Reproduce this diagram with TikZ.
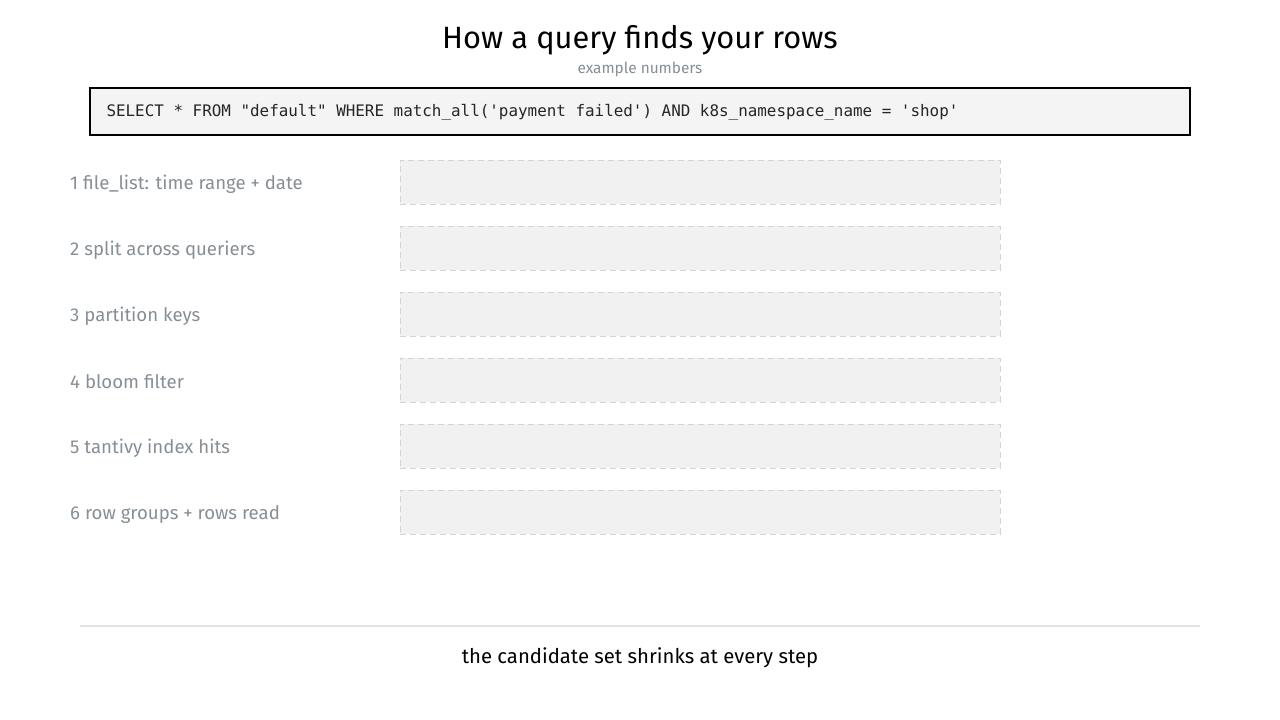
\documentclass[tikz,border=0pt]{standalone}
\usepackage{fontspec}
\setmainfont{Fira Sans}
\setmonofont{DejaVu Sans Mono}
\usetikzlibrary{positioning}

\definecolor{labelgray}{HTML}{868E96}
\definecolor{boxfill}{HTML}{F1F1F1}
\definecolor{boxline}{HTML}{D2D4D8}
\definecolor{sqlfill}{HTML}{F4F4F4}
\definecolor{rulegray}{HTML}{E2E2E2}

\tikzset{
  steplabel/.style={anchor=west, text=labelgray, font=\fontsize{18.6}{21}\selectfont, inner sep=0pt},
  stepbox/.style={draw=boxline, fill=boxfill, dashed, dash pattern=on 6pt off 4pt, line width=1pt,
    minimum width=600pt, minimum height=44pt, inner sep=0pt},
}

\begin{document}
\begin{tikzpicture}[x=1pt, y=-1pt, node distance=66pt]
          \useasboundingbox (0,0) rectangle (1280,720);

          \node[font=\fontsize{30.8}{34}\selectfont] (title) at (640,40) {How a query finds your rows};
          \node[font=\fontsize{15.4}{17}\selectfont, text=labelgray] (sub) at (640,69) {example numbers};

          \node[draw=black, fill=sqlfill, line width=2pt, minimum width=1100pt, minimum height=47pt] (sql) at (640,111) {};
          \node[anchor=west, font=\ttfamily\fontsize{15.9}{18}\selectfont, text=black!85] (query) at (103,112)
            {SELECT * FROM "default" WHERE match\_all('payment failed') AND k8s\_namespace\_name = 'shop'};

          \node[steplabel] (l1) at (70,184) {1 file\_list: time range + date};
          \node[steplabel, below=66pt of l1.west, anchor=west] (l2) {2 split across queriers};
          \node[steplabel, below=66pt of l2.west, anchor=west] (l3) {3 partition keys};
          \node[steplabel, below=66pt of l3.west, anchor=west] (l4) {4 bloom filter};
          \node[steplabel, below=66pt of l4.west, anchor=west] (l5) {5 tantivy index hits};
          \node[steplabel, below=66pt of l5.west, anchor=west] (l6) {6 row groups + rows read};

          \node[stepbox] (b1) at (700,182) {};
          \node[stepbox, below of=b1] (b2) {};
          \node[stepbox, below of=b2] (b3) {};
          \node[stepbox, below of=b3] (b4) {};
          \node[stepbox, below of=b4] (b5) {};
          \node[stepbox, below of=b5] (b6) {};

          \coordinate (r1) at (80,626);
          \coordinate (r2) at (1200,626);
          \draw[rulegray, line width=1.5pt] (r1) -- (r2);

          \node[font=\fontsize{20.3}{23}\selectfont] (foot) at (640,658) {the candidate set shrinks at every step};
        \end{tikzpicture}
\end{document}
